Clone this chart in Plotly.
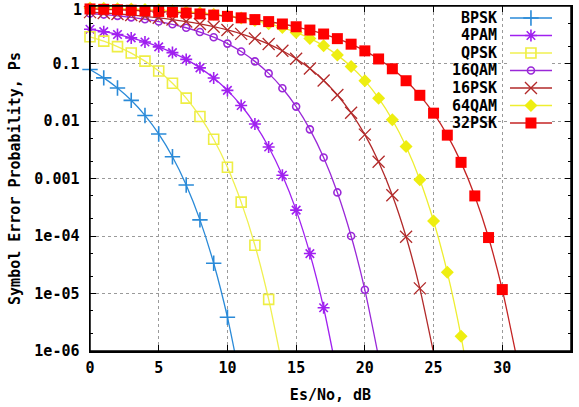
import plotly.graph_objects as go

# ---------------- data ----------------
snr_bpsk = list(range(0, 12))
ps_bpsk = [0.0786, 0.0563, 0.0375, 0.0229, 0.0125, 0.00595, 0.00239, 0.000773,
           0.000191, 3.36e-5, 3.87e-6, 2.6e-7]

snr_4pam = list(range(0, 19))
ps_4pam = [0.395, 0.358, 0.320, 0.279, 0.237, 0.195, 0.155, 0.118, 0.0841, 0.0560,
           0.0341, 0.0186, 0.00885, 0.00354, 0.00114, 0.000282, 4.95e-5, 5.65e-6, 3.8e-7]

snr_qpsk = list(range(0, 15))
ps_qpsk = [0.292, 0.245, 0.197, 0.152, 0.110, 0.074, 0.0455, 0.0250, 0.0120,
           0.00483, 0.00157, 0.000388, 6.9e-5, 7.9e-6, 5.4e-7]

snr_16qam = list(range(0, 22))
ps_16qam = [0.741, 0.710, 0.675, 0.635, 0.589, 0.537, 0.481, 0.419, 0.353, 0.287,
            0.222, 0.162, 0.109, 0.0674, 0.0372, 0.0178, 0.00716, 0.00232, 0.000573,
            1.0e-4, 1.16e-5, 7.8e-7]

snr_16psk = list(range(0, 26))
ps_16psk = [0.783, 0.757, 0.728, 0.697, 0.662, 0.624, 0.582, 0.537, 0.488, 0.437,
            0.383, 0.328, 0.272, 0.218, 0.167, 0.121, 0.0817, 0.0508, 0.0284, 0.0139,
            0.0058, 0.00196, 0.000513, 9.7e-5, 1.23e-5, 9.3e-7]

snr_64qam = list(range(0, 29))
ps_64qam = [0.924, 0.913, 0.901, 0.887, 0.869, 0.849, 0.824, 0.795, 0.761, 0.720,
            0.674, 0.620, 0.560, 0.494, 0.422, 0.348, 0.273, 0.203, 0.140, 0.0886,
            0.0503, 0.0249, 0.0105, 0.00359, 0.000952, 1.82e-4, 2.34e-5, 1.8e-6, 7.4e-8]

snr_32psk = list(range(0, 32))
ps_32psk = [0.890, 0.876, 0.861, 0.845, 0.826, 0.805, 0.782, 0.756, 0.728, 0.696,
            0.661, 0.623, 0.581, 0.536, 0.487, 0.436, 0.382, 0.326, 0.271, 0.217,
            0.166, 0.120, 0.081, 0.0502, 0.0280, 0.0137, 0.00568, 0.00191, 4.98e-4,
            9.4e-5, 1.17e-5, 8.7e-7]

names = ["BPSK", "4PAM", "QPSK", "16QAM", "16PSK", "64QAM", "32PSK"]

y_tickvals = [1, 0.1, 0.01, 0.001, 1e-4, 1e-5, 1e-6]
y_ticktext = ["1", "0.1", "0.01", "0.001", "1e-04", "1e-05", "1e-06"]
y_minor = [2e-6, 5e-6, 2e-5, 5e-5, 2e-4, 5e-4, 2e-3, 5e-3, 2e-2, 5e-2, 0.2, 0.5]
x_tickvals = [0, 5, 10, 15, 20, 25, 30, 35]

# ---------------- styles ----------------
styles = {
    "BPSK":  dict(line="#2a8ad8", mcolor="#2a8ad8", symbol="cross-thin-open", size=11, mline=1.6),
    "4PAM":  dict(line="#a020f0", mcolor="#a020f0", symbol="asterisk-open", size=10, mline=1.6),
    "QPSK":  dict(line="#f0f050", mcolor="#eeee44", symbol="square-open", size=10, mline=1.6),
    "16QAM": dict(line="#9a28d8", mcolor="#9a28d8", symbol="circle-open", size=7, mline=1.6),
    "16PSK": dict(line="#b22a2a", mcolor="#b22a2a", symbol="x-thin-open", size=12, mline=1.3),
    "64QAM": dict(line="#eeee30", mcolor="#eeee10", symbol="diamond", size=10, mline=0),
    "32PSK": dict(line="#c42424", mcolor="#ff0000", symbol="square", size=11, mline=0),
}

series = [
    ("BPSK", snr_bpsk, ps_bpsk),
    ("4PAM", snr_4pam, ps_4pam),
    ("QPSK", snr_qpsk, ps_qpsk),
    ("16QAM", snr_16qam, ps_16qam),
    ("16PSK", snr_16psk, ps_16psk),
    ("64QAM", snr_64qam, ps_64qam),
    ("32PSK", snr_32psk, ps_32psk),
]

FONT = dict(family="DejaVu Sans Mono", size=15, color="black", weight="bold")

fig = go.Figure()

for name, xs, ys in series:
    st = styles[name]
    fig.add_trace(go.Scatter(
        x=xs, y=ys, mode="lines", name=name, showlegend=False,
        line=dict(color=st["line"], width=1.3, shape="spline", smoothing=0.6),
        hoverinfo="skip"))
    mx = [x for x, y in zip(xs, ys) if y >= 1e-6]
    my = [y for y in ys if y >= 1e-6]
    fig.add_trace(go.Scatter(
        x=mx, y=my, mode="markers", name=name, showlegend=False, cliponaxis=False,
        marker=dict(symbol=st["symbol"], size=st["size"], color=st["mcolor"],
                    line=dict(color=st["mcolor"], width=st["mline"]))))

# ---------------- manual legend (text on the left, sample on the right) ----------------
for i, (name, xs, ys) in enumerate(series):
    st = styles[name]
    fig.add_trace(go.Scatter(
        x=[0, 1], y=[i, i], mode="lines", xaxis="x2", yaxis="y2", showlegend=False,
        line=dict(color=st["line"], width=1.3), hoverinfo="skip"))
    fig.add_trace(go.Scatter(
        x=[0.5], y=[i], mode="markers", xaxis="x2", yaxis="y2", showlegend=False,
        cliponaxis=False,
        marker=dict(symbol=st["symbol"], size=st["size"], color=st["mcolor"],
                    line=dict(color=st["mcolor"], width=st["mline"]))))
    fig.add_annotation(x=0.851, y=i, xref="paper", yref="y2", text=name,
                       showarrow=False, xanchor="right", yanchor="middle", font=FONT)

# top tick label "1": drawn as an annotation nudged down so it stays inside the page
y_ticktext_axis = [""] + y_ticktext[1:]
fig.add_annotation(x=-0.0125, y=0, xref="paper", yref="y", text=y_ticktext[0],
                   showarrow=False, xanchor="right", yanchor="middle", yshift=-4,
                   font=FONT)

axis_common = dict(showline=True, linecolor="black", linewidth=1.5, mirror="ticks",
                   ticks="inside", ticklen=6, tickcolor="black", tickwidth=1,
                   showgrid=True, gridcolor="#9a9a9a", griddash="dot", gridwidth=1,
                   zeroline=False, tickfont=FONT, automargin=False)

fig.update_layout(
    width=579, height=407,
    margin=dict(l=90, r=8, t=6, b=56, autoexpand=False),
    paper_bgcolor="white", plot_bgcolor="white",
    font=FONT,
    xaxis=dict(range=[0, 35], tickvals=x_tickvals, ticklabelstandoff=2,
               title=dict(text="Es/No, dB", font=FONT, standoff=14), **axis_common),
    yaxis=dict(type="log", range=[-6, 0.0005], tickvals=y_tickvals, ticktext=y_ticktext_axis,
               ticklabelstandoff=6, ticklabeloverflow="allow",
               minor=dict(ticks="inside", ticklen=3, tickcolor="black",
                          tickvals=y_minor, showgrid=False),
               title=dict(text="Symbol Error Probability, Ps", font=FONT, standoff=10),
               **axis_common),
    xaxis2=dict(domain=[0.873, 0.9605], range=[0, 1], visible=False, fixedrange=True,
                anchor="y2"),
    yaxis2=dict(domain=[0.6355, 0.9906], range=[6.5, -0.5], visible=False, fixedrange=True,
                anchor="x2"),
    shapes=[
        # opaque key box hiding the grid behind the legend
        dict(type="rect", xref="paper", yref="paper", x0=0.735, x1=0.985, y0=0.632, y1=0.995,
             fillcolor="white", line=dict(width=0), layer="between"),
        # plot frame
        dict(type="rect", xref="paper", yref="paper", x0=0, x1=1, y0=0, y1=1,
             line=dict(color="black", width=1.5), fillcolor="rgba(0,0,0,0)", layer="above"),
    ],
    showlegend=False,
)

fig.write_html("out.html", config={"displayModeBar": False, "staticPlot": True},
               post_script="document.body.style.margin='0px';")
